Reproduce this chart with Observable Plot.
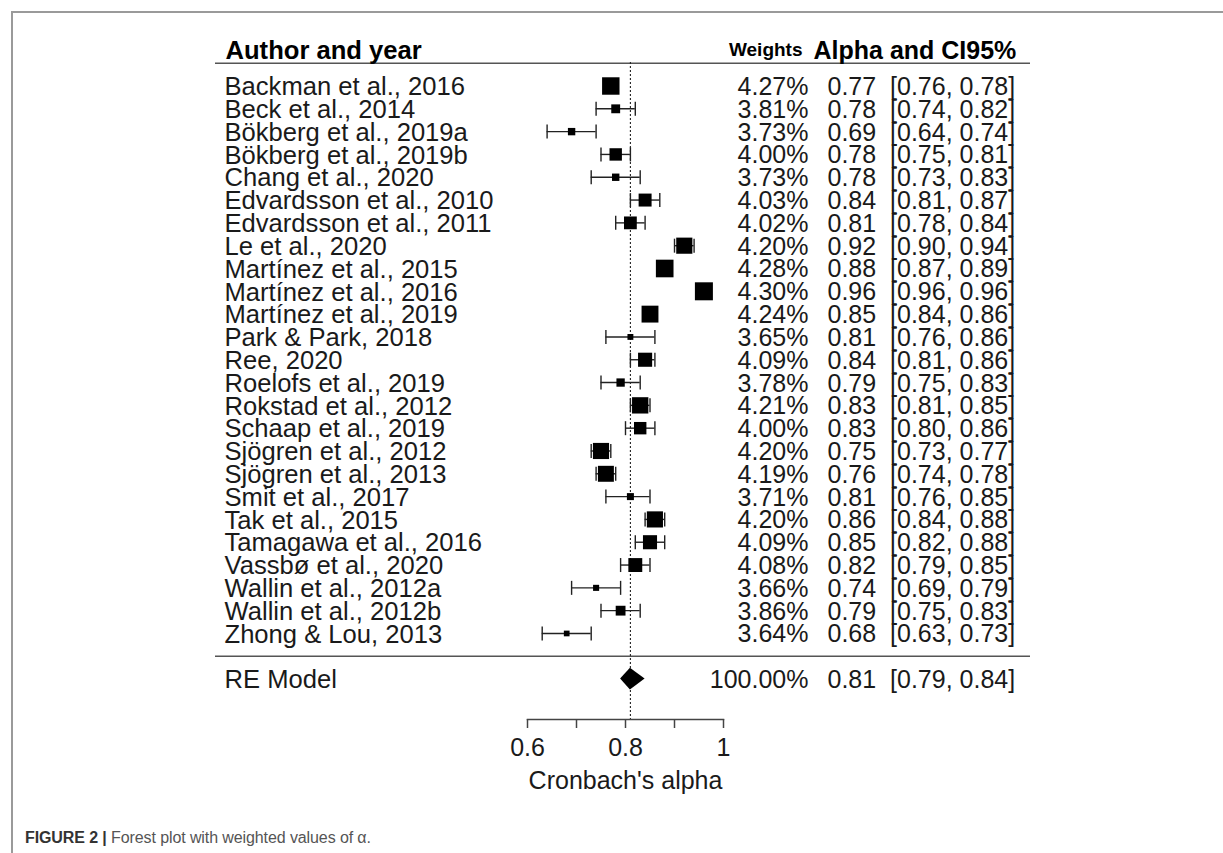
<!DOCTYPE html>
<html>
<head>
<meta charset="utf-8">
<script src="https://cdn.jsdelivr.net/npm/d3@7"></script>
<script src="https://cdn.jsdelivr.net/npm/@observablehq/plot@0.6"></script>
<style>
  html, body { margin: 0; padding: 0; background: #fff; }
  #page { position: relative; width: 1223px; height: 853px; overflow: hidden; }
  #frame { position: absolute; left: 11px; top: 11px; right: 0; bottom: 0;
           border-top: 2px solid #9a9a9a; border-left: 2px solid #9a9a9a; }
  #chart { position: absolute; left: 0; top: 0; }
  #caption { position: absolute; left: 25px; top: 829px; font-family: "Liberation Sans", Arial, sans-serif;
             font-size: 16px; color: #555; letter-spacing: -0.1px; }
  #caption b { color: #333; }
</style>
</head>
<body>
<div id="page">
  <div id="frame"></div>
  <div id="chart"></div>
  <div id="caption"><b>FIGURE 2 |</b> Forest plot with weighted values of α.</div>
</div>
<script>
// ---- data ----
const authors = [
  "Backman et al., 2016", "Beck et al., 2014", "Bökberg et al., 2019a", "Bökberg et al., 2019b",
  "Chang et al., 2020", "Edvardsson et al., 2010", "Edvardsson et al., 2011", "Le et al., 2020",
  "Martínez et al., 2015", "Martínez et al., 2016", "Martínez et al., 2019", "Park & Park, 2018",
  "Ree, 2020", "Roelofs et al., 2019", "Rokstad et al., 2012", "Schaap et al., 2019",
  "Sjögren et al., 2012", "Sjögren et al., 2013", "Smit et al., 2017", "Tak et al., 2015",
  "Tamagawa et al., 2016", "Vassbø et al., 2020", "Wallin et al., 2012a", "Wallin et al., 2012b",
  "Zhong & Lou, 2013"
];
const weights = [4.27, 3.81, 3.73, 4.00, 3.73, 4.03, 4.02, 4.20, 4.28, 4.30, 4.24, 3.65, 4.09,
                 3.78, 4.21, 4.00, 4.20, 4.19, 3.71, 4.20, 4.09, 4.08, 3.66, 3.86, 3.64];
const alphas  = [0.77, 0.78, 0.69, 0.78, 0.78, 0.84, 0.81, 0.92, 0.88, 0.96, 0.85, 0.81, 0.84,
                 0.79, 0.83, 0.83, 0.75, 0.76, 0.81, 0.86, 0.85, 0.82, 0.74, 0.79, 0.68];
const ciLow   = [0.76, 0.74, 0.64, 0.75, 0.73, 0.81, 0.78, 0.90, 0.87, 0.96, 0.84, 0.76, 0.81,
                 0.75, 0.81, 0.80, 0.73, 0.74, 0.76, 0.84, 0.82, 0.79, 0.69, 0.75, 0.63];
const ciHigh  = [0.78, 0.82, 0.74, 0.81, 0.83, 0.87, 0.84, 0.94, 0.89, 0.96, 0.86, 0.86, 0.86,
                 0.83, 0.85, 0.86, 0.77, 0.78, 0.85, 0.88, 0.88, 0.85, 0.79, 0.83, 0.73];
const pooledLabel = "RE Model";
const pooledWeight = 100;
const pooledAlpha = 0.81;
const pooledLow = 0.79;
const pooledHigh = 0.84;
const xTicks = [0.6, 0.7, 0.8, 0.9, 1];
const xTickLabels = ["0.6", "", "0.8", "", "1"];
const xLabel = "Cronbach's alpha";

// ---- layout / style constants ----
const FONT = "Liberation Sans, Arial, sans-serif";
const FS = 25;
const FS_LABEL = 25.6;
const pooledRow = authors.length + 1;        // one blank row between studies and pooled
const diamondHalf = 0.48;                    // half-height of diamond in row units
const separators = [-1, authors.length];

const rows = authors.map((a, i) => ({
  row: i, author: a, weight: weights[i], alpha: alphas[i], lo: ciLow[i], hi: ciHigh[i]
}));
const textRows = rows.concat([{row: pooledRow, author: pooledLabel, weight: pooledWeight,
  alpha: pooledAlpha, lo: pooledLow, hi: pooledHigh}]);
const diamond = [
  {x: pooledLow, y1: pooledRow, y2: pooledRow},
  {x: pooledAlpha, y1: pooledRow - diamondHalf, y2: pooledRow + diamondHalf},
  {x: pooledHigh, y1: pooledRow, y2: pooledRow}
];
const f2 = d3.format(".2f");
const capSymbol = {draw(ctx, size) { const r = Math.sqrt(size / Math.PI); ctx.moveTo(0, -r); ctx.lineTo(0, r); }};

const ink = "#1a1a1a";

const chart = Plot.plot({
  width: 1223,
  height: 800,
  marginLeft: 527,
  marginRight: 500,
  marginTop: 62,
  marginBottom: 81,
  style: {fontFamily: FONT, fontSize: FS + "px", background: "transparent", color: ink},
  x: {domain: [0.6, 1]},
  y: {domain: [0, pooledRow], range: [85.5, 678.6], axis: null},
  r: {type: "linear", domain: [3.64, 4.30], range: [3.22, 10.16], clamp: true},
  marks: [
    // separators
    Plot.ruleY(separators, {stroke: "#555", strokeWidth: 1.6, insetLeft: -312, insetRight: -307}),
    // reference dotted line at pooled estimate
    Plot.ruleX([pooledAlpha], {stroke: "#222", strokeWidth: 1.1, strokeDasharray: "2,2"}),
    // x axis
    Plot.frame({anchor: "bottom", stroke: "#444", strokeWidth: 1.5}),
    Plot.axisX({ticks: xTicks, tickSize: 9, tickPadding: 10, fontSize: FS, stroke: "#444",
      strokeWidth: 1.5, fill: ink, tickFormat: (d) => xTickLabels[xTicks.indexOf(d)], label: null}),
    Plot.text([xLabel], {frameAnchor: "bottom", text: d => d, dy: 69, fontSize: FS, fill: ink}),
    // CI lines and caps
    Plot.ruleY(rows, {y: "row", x1: "lo", x2: "hi", stroke: "#222", strokeWidth: 1.4}),
    Plot.dot(rows, {x: "lo", y: "row", symbol: capSymbol, r: 7, stroke: "#222", strokeWidth: 1.4}),
    Plot.dot(rows, {x: "hi", y: "row", symbol: capSymbol, r: 7, stroke: "#222", strokeWidth: 1.4}),
    // weighted squares
    Plot.dot(rows, {x: "alpha", y: "row", r: "weight", symbol: "square", fill: "black"}),
    // pooled diamond
    Plot.areaY(diamond, {x: "x", y1: "y1", y2: "y2", fill: "black"}),
    // headers
    Plot.text(["Author and year"], {frameAnchor: "top-left", text: d => d, dx: -302, dy: -21.5,
      textAnchor: "start", fontWeight: "bold", fontSize: FS_LABEL, fill: "#000"}),
    Plot.text(["Weights"], {frameAnchor: "top-right", text: d => d, dx: 79, dy: -20,
      textAnchor: "end", fontWeight: "bold", fontSize: 19, fill: "#000"}),
    Plot.text(["Alpha and CI95%"], {frameAnchor: "top-right", text: d => d, dx: 90, dy: -21.5,
      textAnchor: "start", fontWeight: "bold", fontSize: FS, fill: "#000"}),
    // row texts
    Plot.text(textRows, {y: "row", text: "author", frameAnchor: "left", dx: -303, dy: 1,
      textAnchor: "start", fontSize: FS_LABEL, fill: ink}),
    Plot.text(textRows, {y: "row", text: d => f2(d.weight) + "%", frameAnchor: "right", dx: 85, dy: 1,
      textAnchor: "end", fontSize: FS, fill: ink}),
    Plot.text(textRows, {y: "row", text: d => `${f2(d.alpha)}\u00a0\u00a0[${f2(d.lo)}, ${f2(d.hi)}]`,
      frameAnchor: "right", dx: 104, dy: 1, textAnchor: "start", fontSize: FS, fill: ink})
  ]
});
document.getElementById("chart").appendChild(chart);
</script>
</body>
</html>
